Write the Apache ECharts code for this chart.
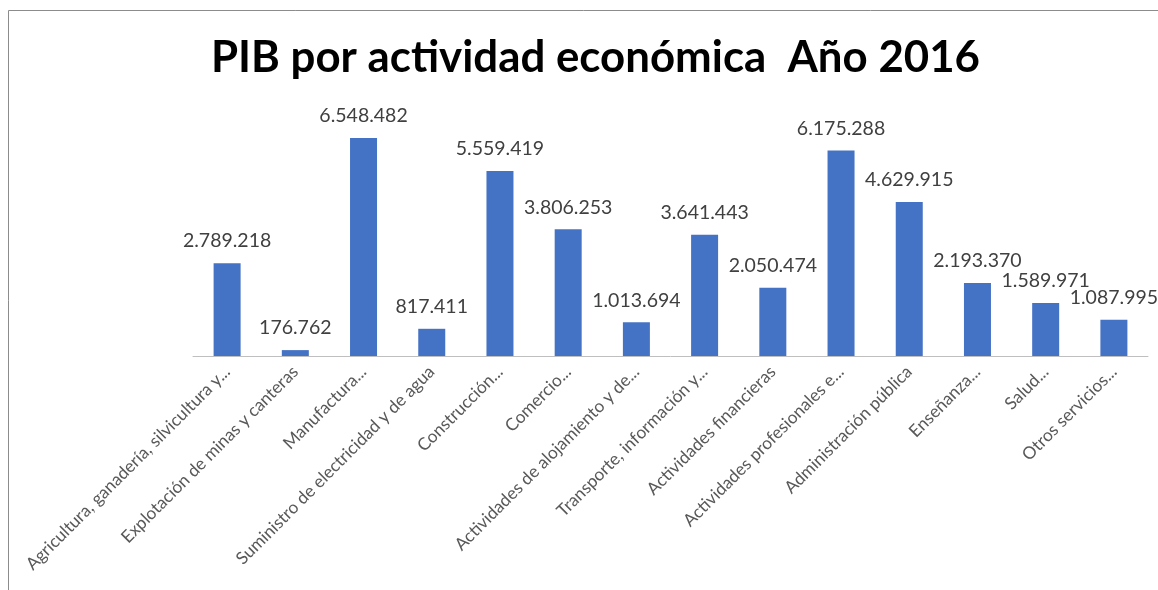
<!DOCTYPE html>
<html>
<head>
<meta charset="utf-8">
<script src="https://cdn.jsdelivr.net/npm/echarts@6/dist/echarts.min.js"></script>
<style>
  html, body { margin: 0; padding: 0; background: #fff; }
  #chart { width: 1158px; height: 590px; }
</style>
</head>
<body>
<div id="chart"></div>
<script>
// categorías tal como aparecen (recortadas) en el gráfico original
const categories = [
  'Agricultura, ganadería, silvicultura y...',
  'Explotación de minas y canteras',
  'Manufactura...',
  'Suministro de electricidad y de agua',
  'Construcción...',
  'Comercio...',
  'Actividades de alojamiento y de...',
  'Transporte, información y...',
  'Actividades financieras',
  'Actividades profesionales e...',
  'Administración pública',
  'Enseñanza...',
  'Salud...',
  'Otros servicios...'
];
const pib2016 = [
  2789218, 176762, 6548482, 817411, 5559419, 3806253, 1013694,
  3641443, 2050474, 6175288, 4629915, 2193370, 1589971, 1087995
];

// formato con punto como separador de miles
const fmtMiles = v => String(v).replace(/\B(?=(\d{3})+(?!\d))/g, '.');

const chart = echarts.init(document.getElementById('chart'));
chart.setOption({
  animation: false,
  backgroundColor: '#FFFFFF',
  title: {
    text: 'PIB por actividad económica  Año 2016',
    left: 206,
    top: 31,
    textStyle: { fontFamily: 'Lato', fontWeight: 'bold', fontSize: 43.8, color: '#000000' }
  },
  grid: { left: 193, right: 10, top: 123, bottom: 234 },
  xAxis: {
    type: 'category',
    data: categories,
    axisLine: { lineStyle: { color: '#BFBFBF', width: 1 } },
    axisTick: { show: false },
    axisLabel: {
      interval: 0, rotate: 45, margin: 13,
      fontFamily: 'Lato', fontSize: 17.3, color: '#595959'
    }
  },
  yAxis: {
    type: 'value', min: 0, max: 7000000, show: false,
    splitLine: { show: false }
  },
  series: [{
    type: 'bar',
    data: pib2016,
    barWidth: 27,
    itemStyle: { color: '#4472C4' },
    label: {
      show: true, position: 'top', distance: 12,
      fontFamily: 'Lato', fontSize: 19.5, color: '#404040',
      formatter: p => fmtMiles(p.value)
    }
  }],
  graphic: [
    { type: 'line', shape: { x1: 8.5, y1: 10.5, x2: 1158, y2: 10.5 }, style: { stroke: '#8C8C8C', lineWidth: 1 } },
    { type: 'line', shape: { x1: 8.5, y1: 10.5, x2: 8.5, y2: 590 }, style: { stroke: '#8C8C8C', lineWidth: 1 } }
  ]
});
</script>
</body>
</html>
